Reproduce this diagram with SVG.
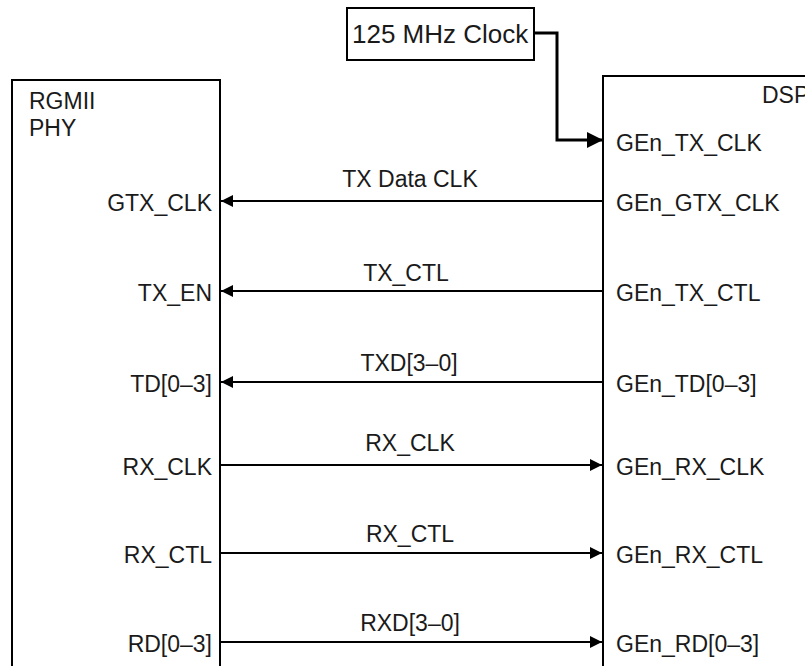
<svg xmlns="http://www.w3.org/2000/svg" width="805" height="666" viewBox="0 0 805 666">
<style>
  .box { fill: #ffffff; stroke: #000000; stroke-width: 2; }
  .t { font-family: "Liberation Sans", Arial, sans-serif; font-size: 23px; fill: #1a1a1a; }
  .l { text-anchor: end; }
  .m { text-anchor: middle; }
  .wire { stroke: #000000; stroke-width: 2; fill: none; }
  .clk { stroke: #000000; stroke-width: 3; fill: none; }
</style>
<defs>
  <marker id="arr" markerUnits="userSpaceOnUse" markerWidth="12" markerHeight="12" viewBox="0 0 12 12" refX="12" refY="6" orient="auto">
    <path d="M0,0 L12,6 L0,12 Z" fill="#000000"/>
  </marker>
  <marker id="arrBig" markerUnits="userSpaceOnUse" markerWidth="16" markerHeight="16" viewBox="0 0 16 16" refX="16" refY="8" orient="auto">
    <path d="M0,0 L16,8 L0,16 Z" fill="#000000"/>
  </marker>
</defs>
<rect width="805" height="666" fill="#ffffff"/>

<g id="phy">
  <rect class="box" x="12" y="80" width="208" height="600"/>
  <text class="t" x="29" y="109">RGMII</text>
  <text class="t" x="29" y="136">PHY</text>
  <text class="t l" x="212" y="211">GTX_CLK</text>
  <text class="t l" x="212" y="301">TX_EN</text>
  <text class="t l" x="212" y="392">TD[0–3]</text>
  <text class="t l" x="212" y="475">RX_CLK</text>
  <text class="t l" x="212" y="563">RX_CTL</text>
  <text class="t l" x="212" y="652">RD[0–3]</text>
</g>

<g id="dsp">
  <rect class="box" x="603" y="76" width="220" height="610"/>
  <text class="t" x="762" y="103">DSP</text>
  <text class="t" x="616" y="151">GEn_TX_CLK</text>
  <text class="t" x="616" y="211">GEn_GTX_CLK</text>
  <text class="t" x="616" y="301">GEn_TX_CTL</text>
  <text class="t" x="616" y="392">GEn_TD[0–3]</text>
  <text class="t" x="616" y="475">GEn_RX_CLK</text>
  <text class="t" x="616" y="563">GEn_RX_CTL</text>
  <text class="t" x="616" y="652">GEn_RD[0–3]</text>
</g>

<g id="clock">
  <rect class="box" x="347" y="8" width="187" height="52"/>
  <text class="t" x="352" y="43" style="font-size:26px">125 MHz Clock</text>
</g>

<g id="connectors">
  <path class="clk" d="M534,33 H557 V140 H603" marker-end="url(#arrBig)"/>
  <line class="wire" x1="603" y1="201" x2="221" y2="201" marker-end="url(#arr)"/>
  <line class="wire" x1="603" y1="291" x2="221" y2="291" marker-end="url(#arr)"/>
  <line class="wire" x1="603" y1="382" x2="221" y2="382" marker-end="url(#arr)"/>
  <line class="wire" x1="220" y1="465" x2="602" y2="465" marker-end="url(#arr)"/>
  <line class="wire" x1="220" y1="553" x2="602" y2="553" marker-end="url(#arr)"/>
  <line class="wire" x1="220" y1="642" x2="602" y2="642" marker-end="url(#arr)"/>
  <text class="t m" x="410" y="187">TX Data CLK</text>
  <text class="t m" x="406" y="281">TX_CTL</text>
  <text class="t m" x="409" y="371">TXD[3–0]</text>
  <text class="t m" x="410" y="451">RX_CLK</text>
  <text class="t m" x="410" y="542">RX_CTL</text>
  <text class="t m" x="410" y="631">RXD[3–0]</text>
</g>
</svg>
